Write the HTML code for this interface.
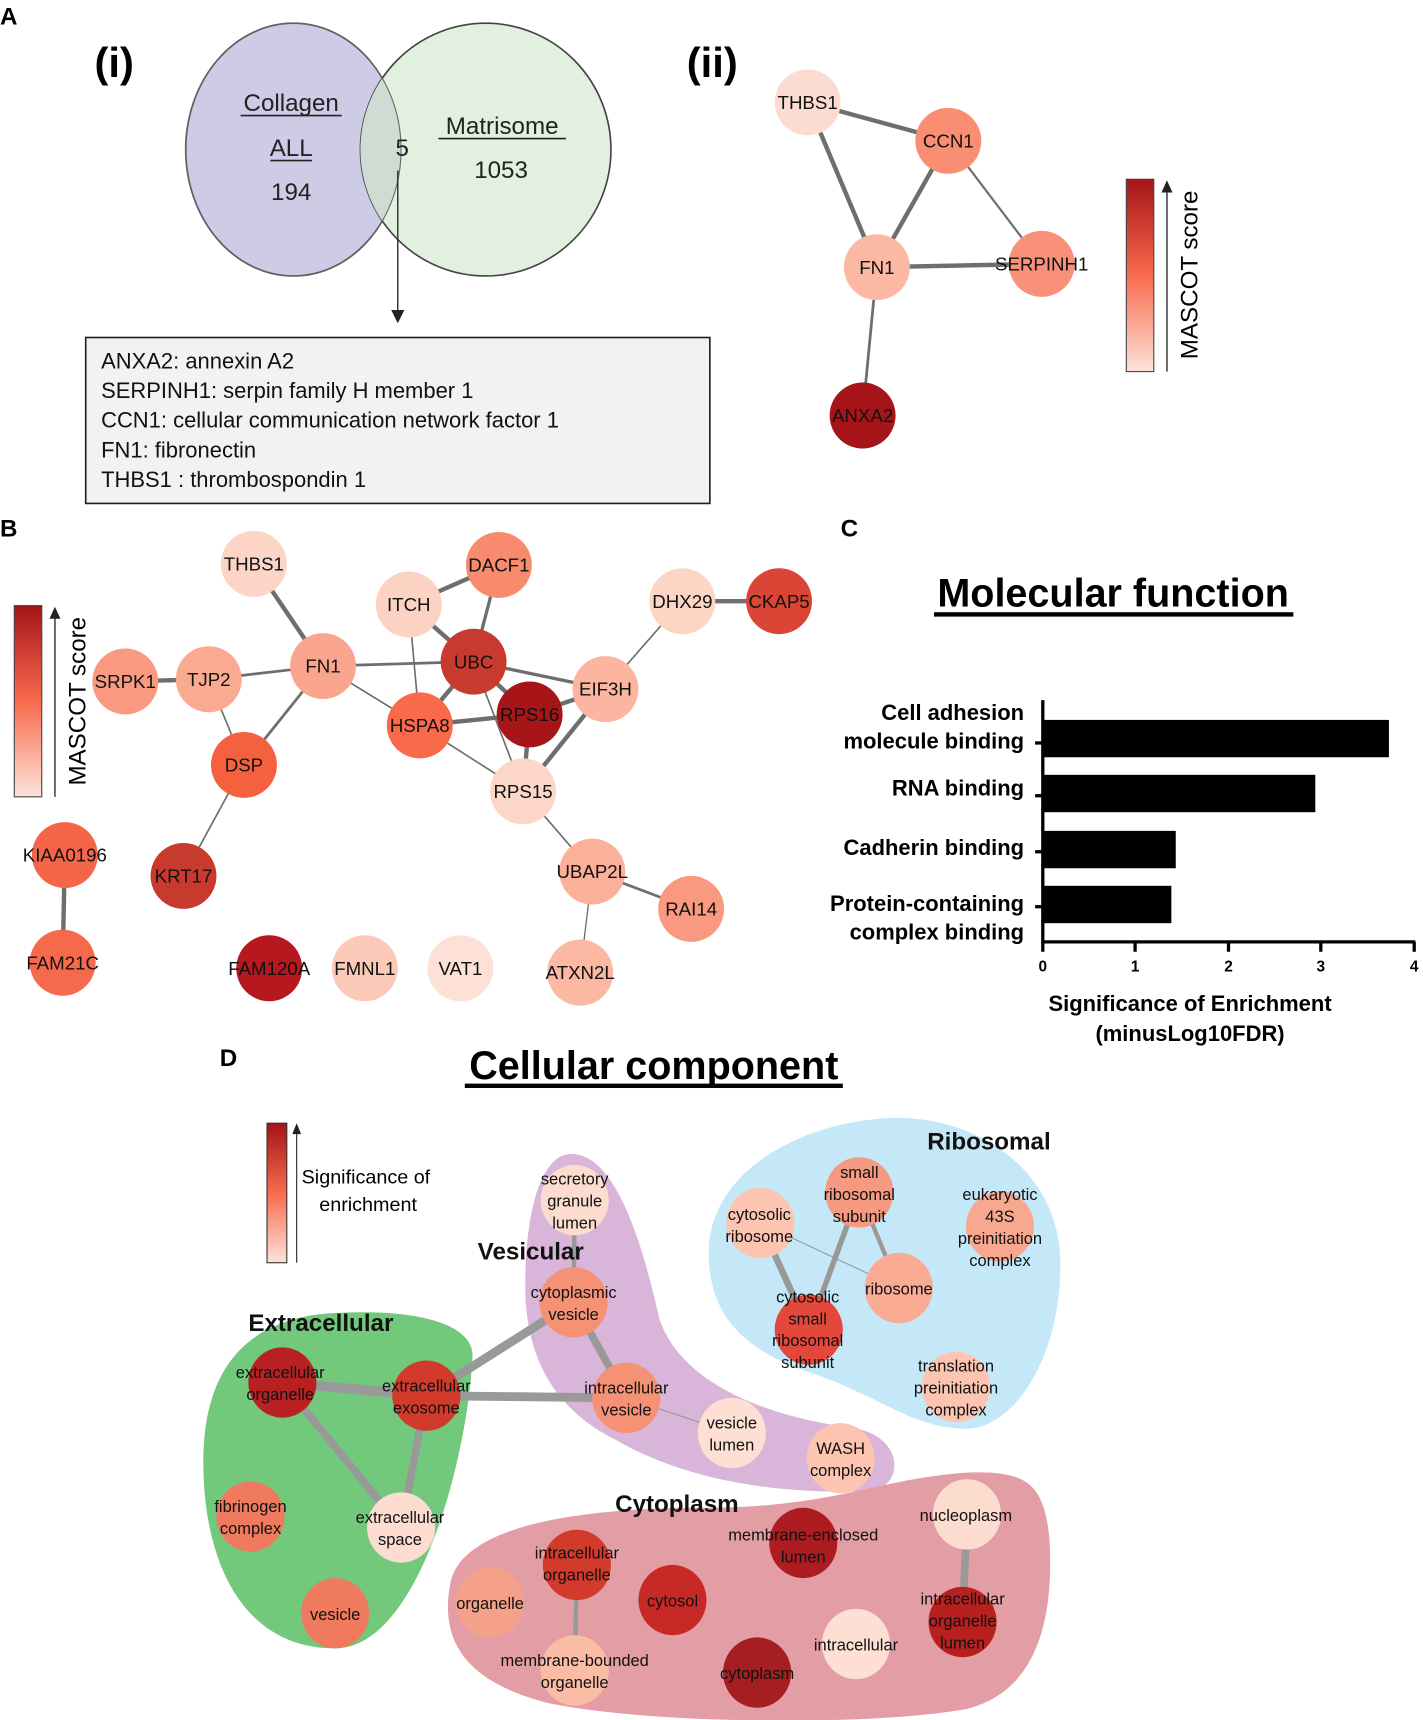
<!DOCTYPE html>
<html><head><meta charset="utf-8"><style>
html,body{margin:0;padding:0;background:#fff;}
svg{display:block;}
text{font-family:"Liberation Sans",sans-serif;}
.n{font-family:"Liberation Sans Narrow","Liberation Sans",sans-serif;font-size:15px;fill:#111;text-anchor:middle;}
.b{font-size:17px;fill:#111;text-anchor:middle;}
.g{font-family:"Liberation Sans Narrow","Liberation Sans",sans-serif;font-weight:bold;font-size:22px;fill:#111;text-anchor:middle;}
</style></head><body>
<svg width="1423" height="1720" viewBox="0 0 1295 1565" xmlns="http://www.w3.org/2000/svg">
<defs>
<linearGradient id="cb" x1="0" y1="0" x2="0" y2="1">
<stop offset="0" stop-color="#a51419"/><stop offset="0.5" stop-color="#f86b4d"/><stop offset="1" stop-color="#fde2da"/>
</linearGradient>
<clipPath id="lc"><ellipse cx="267" cy="136" rx="98" ry="115"/></clipPath>
</defs>

<!-- Panel A -->
<text x="0" y="22" font-weight="bold" font-size="22">A</text>
<text x="86" y="70" font-weight="bold" font-size="38">(i)</text>
<ellipse cx="267" cy="136" rx="98" ry="115" fill="#cdcbe5" stroke="#444" stroke-width="1.5"/>
<ellipse cx="442" cy="136" rx="114" ry="115" fill="#e2f0df" stroke="#444" stroke-width="1.5"/>
<ellipse cx="442" cy="136" rx="114" ry="115" fill="#cfdcd3" clip-path="url(#lc)"/>
<ellipse cx="267" cy="136" rx="98" ry="115" fill="none" stroke="#666" stroke-width="1"/>
<g font-size="22" text-anchor="middle" fill="#222">
<text x="265" y="101">Collagen</text><line x1="219" y1="105" x2="311" y2="105" stroke="#222" stroke-width="1.5"/>
<text x="265" y="142">ALL</text><line x1="246" y1="146" x2="284" y2="146" stroke="#222" stroke-width="1.5"/>
<text x="265" y="182">194</text>
<text x="366" y="142">5</text>
<text x="457" y="122">Matrisome</text><line x1="399" y1="126" x2="515" y2="126" stroke="#222" stroke-width="1.5"/>
<text x="456" y="162">1053</text>
</g>
<line x1="362" y1="155" x2="362" y2="284" stroke="#222" stroke-width="1.2"/>
<polygon points="356,282 368,282 362,294" fill="#222"/>
<rect x="78" y="307" width="568" height="151" fill="#f2f2f2" stroke="#222" stroke-width="1.5"/>
<g font-size="20" fill="#111">
<text x="92" y="335">ANXA2: annexin A2</text>
<text x="92" y="362">SERPINH1: serpin family H member 1</text>
<text x="92" y="389">CCN1: cellular communication network factor 1</text>
<text x="92" y="416">FN1: fibronectin</text>
<text x="92" y="443">THBS1 : thrombospondin 1</text>
</g>
<text x="625" y="70" font-weight="bold" font-size="38">(ii)</text>
<g stroke="#6e6e6e">
<line x1="735" y1="93" x2="863" y2="128" stroke-width="4"/>
<line x1="735" y1="93" x2="798" y2="243" stroke-width="4"/>
<line x1="863" y1="128" x2="798" y2="243" stroke-width="4"/>
<line x1="863" y1="128" x2="948" y2="240" stroke-width="2"/>
<line x1="798" y1="243" x2="948" y2="240" stroke-width="4"/>
<line x1="798" y1="243" x2="785" y2="378" stroke-width="2.5"/>
</g>
<g font-size="17" fill="#111" text-anchor="middle">
<circle cx="735" cy="93" r="30" fill="#fcdcd0"/><text x="735" y="99">THBS1</text>
<circle cx="863" cy="128" r="30" fill="#f98e72"/><text x="863" y="134">CCN1</text>
<circle cx="798" cy="243" r="30" fill="#fbb8a3"/><text x="798" y="249">FN1</text>
<circle cx="948" cy="240" r="30" fill="#f9917a"/><text x="948" y="246">SERPINH1</text>
<circle cx="785" cy="378" r="30" fill="#a51419"/><text x="785" y="384">ANXA2</text>
</g>
<rect x="1025" y="163" width="25" height="175" fill="url(#cb)" stroke="#444"/>
<line x1="1062" y1="338" x2="1062" y2="172" stroke="#222" stroke-width="1.2"/>
<polygon points="1057,175 1067,175 1062,164" fill="#222"/>
<text transform="translate(1090,250) rotate(-90)" font-size="22" text-anchor="middle">MASCOT score</text>

<!-- Panel B -->
<text x="0" y="488" font-weight="bold" font-size="22">B</text>
<rect x="13" y="551" width="25" height="174" fill="url(#cb)" stroke="#444"/>
<line x1="50" y1="725" x2="50" y2="560" stroke="#222" stroke-width="1.2"/>
<polygon points="45,563 55,563 50,552" fill="#222"/>
<text transform="translate(78,638) rotate(-90)" font-size="22" text-anchor="middle">MASCOT score</text>
<g stroke="#6e6e6e">
<line x1="231" y1="513" x2="294" y2="606" stroke-width="4"/>
<line x1="114" y1="620" x2="190" y2="618" stroke-width="4"/>
<line x1="190" y1="618" x2="294" y2="606" stroke-width="2.5"/>
<line x1="190" y1="618" x2="222" y2="696" stroke-width="1.5"/>
<line x1="294" y1="606" x2="222" y2="696" stroke-width="2.5"/>
<line x1="294" y1="606" x2="431" y2="602" stroke-width="2.5"/>
<line x1="294" y1="606" x2="382" y2="660" stroke-width="1.5"/>
<line x1="454" y1="514" x2="372" y2="550" stroke-width="4"/>
<line x1="454" y1="514" x2="431" y2="602" stroke-width="3"/>
<line x1="372" y1="550" x2="431" y2="602" stroke-width="4"/>
<line x1="372" y1="550" x2="382" y2="660" stroke-width="1.5"/>
<line x1="431" y1="602" x2="382" y2="660" stroke-width="4"/>
<line x1="431" y1="602" x2="551" y2="627" stroke-width="3"/>
<line x1="431" y1="602" x2="482" y2="650" stroke-width="4"/>
<line x1="431" y1="602" x2="476" y2="720" stroke-width="1.5"/>
<line x1="382" y1="660" x2="482" y2="650" stroke-width="4"/>
<line x1="382" y1="660" x2="476" y2="720" stroke-width="1.5"/>
<line x1="482" y1="650" x2="551" y2="627" stroke-width="4"/>
<line x1="482" y1="650" x2="476" y2="720" stroke-width="4"/>
<line x1="551" y1="627" x2="476" y2="720" stroke-width="4"/>
<line x1="551" y1="627" x2="621" y2="547" stroke-width="1.5"/>
<line x1="621" y1="547" x2="709" y2="547" stroke-width="4"/>
<line x1="222" y1="696" x2="167" y2="797" stroke-width="1.5"/>
<line x1="476" y1="720" x2="539" y2="793" stroke-width="1.5"/>
<line x1="539" y1="793" x2="629" y2="827" stroke-width="2.5"/>
<line x1="539" y1="793" x2="528" y2="885" stroke-width="1.2"/>
<line x1="59" y1="778" x2="57" y2="876" stroke-width="4"/>
</g>
<g font-size="17" fill="#111" text-anchor="middle">
<circle cx="231" cy="513" r="30" fill="#fcd5c7"/><text x="231" y="519">THBS1</text>
<circle cx="454" cy="514" r="30" fill="#f88b6e"/><text x="454" y="520">DACF1</text>
<circle cx="372" cy="550" r="30" fill="#fcd2c2"/><text x="372" y="556">ITCH</text>
<circle cx="621" cy="547" r="30" fill="#fcd5c5"/><text x="621" y="553">DHX29</text>
<circle cx="709" cy="547" r="30" fill="#db4535"/><text x="709" y="553">CKAP5</text>
<circle cx="114" cy="620" r="30" fill="#f99a80"/><text x="114" y="626">SRPK1</text>
<circle cx="190" cy="618" r="30" fill="#fbaa92"/><text x="190" y="624">TJP2</text>
<circle cx="294" cy="606" r="30" fill="#faa68e"/><text x="294" y="612">FN1</text>
<circle cx="431" cy="602" r="30" fill="#c83a2e"/><text x="431" y="608">UBC</text>
<circle cx="551" cy="627" r="30" fill="#fbb5a0"/><text x="551" y="633">EIF3H</text>
<circle cx="382" cy="660" r="30" fill="#f96a4a"/><text x="382" y="666">HSPA8</text>
<circle cx="482" cy="650" r="30" fill="#a81518"/><text x="482" y="656">RPS16</text>
<circle cx="222" cy="696" r="30" fill="#f5603f"/><text x="222" y="702">DSP</text>
<circle cx="476" cy="720" r="30" fill="#fcd6c8"/><text x="476" y="726">RPS15</text>
<circle cx="59" cy="778" r="30" fill="#f56648"/><text x="59" y="784">KIAA0196</text>
<circle cx="167" cy="797" r="30" fill="#c93a2e"/><text x="167" y="803">KRT17</text>
<circle cx="539" cy="793" r="30" fill="#fbb09a"/><text x="539" y="799">UBAP2L</text>
<circle cx="629" cy="827" r="30" fill="#f99a80"/><text x="629" y="833">RAI14</text>
<circle cx="57" cy="876" r="30" fill="#f56a4c"/><text x="57" y="882">FAM21C</text>
<circle cx="245" cy="881" r="30" fill="#b5191f"/><text x="245" y="887">FAM120A</text>
<circle cx="332" cy="881" r="30" fill="#fcc9b8"/><text x="332" y="887">FMNL1</text>
<circle cx="419" cy="881" r="30" fill="#fde0d6"/><text x="419" y="887">VAT1</text>
<circle cx="528" cy="885" r="30" fill="#fbb8a3"/><text x="528" y="891">ATXN2L</text>
</g>

<!-- Panel C -->
<text x="765" y="488" font-weight="bold" font-size="22">C</text>
<text x="1013" y="552" font-weight="bold" font-size="36" text-anchor="middle">Molecular function</text>
<rect x="850" y="557" width="327" height="4" fill="#000"/>
<rect x="949" y="655" width="315" height="34" fill="#000"/>
<rect x="949" y="705" width="248" height="34" fill="#000"/>
<rect x="949" y="756" width="121" height="34" fill="#000"/>
<rect x="949" y="806" width="117" height="34" fill="#000"/>
<g stroke="#000" stroke-width="3">
<line x1="949" y1="637" x2="949" y2="858"/>
<line x1="948" y1="857" x2="1288" y2="857"/>
<line x1="949" y1="857" x2="949" y2="866"/><line x1="1033" y1="857" x2="1033" y2="866"/><line x1="1118" y1="857" x2="1118" y2="866"/><line x1="1202" y1="857" x2="1202" y2="866"/><line x1="1287" y1="857" x2="1287" y2="866"/>
<line x1="942" y1="676" x2="949" y2="676"/><line x1="942" y1="724" x2="949" y2="724"/><line x1="942" y1="775" x2="949" y2="775"/><line x1="942" y1="825" x2="949" y2="825"/>
</g>
<g font-size="14" font-weight="bold" text-anchor="middle">
<text x="949" y="884">0</text><text x="1033" y="884">1</text><text x="1118" y="884">2</text><text x="1202" y="884">3</text><text x="1287" y="884">4</text>
</g>
<g font-size="20" font-weight="bold" text-anchor="end">
<text x="932" y="655">Cell adhesion</text>
<text x="932" y="681">molecule binding</text>
<text x="932" y="724">RNA binding</text>
<text x="932" y="778">Cadherin binding</text>
<text x="932" y="829">Protein-containing</text>
<text x="932" y="855">complex binding</text>
</g>
<g font-size="20" font-weight="bold" text-anchor="middle">
<text x="1083" y="920">Significance of Enrichment</text>
<text x="1083" y="947">(minusLog10FDR)</text>
</g>

<!-- Panel D -->
<text x="200" y="970" font-weight="bold" font-size="22">D</text>
<text x="595" y="982" font-weight="bold" font-size="36" text-anchor="middle">Cellular component</text>
<rect x="423" y="986" width="344" height="4" fill="#000"/>
<rect x="243" y="1022" width="18" height="127" fill="url(#cb)" stroke="#333"/>
<line x1="270" y1="1149" x2="270" y2="1030" stroke="#222" stroke-width="1"/>
<polygon points="266,1032 274,1032 270,1022" fill="#222"/>
<text x="333" y="1077" font-size="18" text-anchor="middle">Significance of</text>
<text x="335" y="1102" font-size="18" text-anchor="middle">enrichment</text>

<path d="M300,1195 C380,1190 432,1205 430,1235 C425,1330 380,1500 305,1500 C220,1500 185,1420 185,1330 C185,1240 230,1200 300,1195 Z" fill="#72c97c"/>
<path d="M520,1050 C555,1050 580,1110 600,1200 C620,1260 700,1290 780,1300 C825,1310 822,1355 790,1357 C700,1360 620,1345 560,1310 C500,1280 478,1230 478,1170 C478,1110 490,1050 520,1050 Z" fill="#d9b5d9"/>
<path d="M800,1018 C880,1010 965,1060 965,1150 C965,1240 920,1300 880,1300 C830,1300 800,1270 740,1250 C680,1230 645,1200 645,1140 C645,1070 720,1025 800,1018 Z" fill="#c4e8f8"/>
<path d="M410,1440 C420,1390 520,1372 640,1372 C760,1372 800,1345 880,1340 C935,1338 950,1350 955,1400 C960,1480 940,1540 880,1555 C800,1570 600,1570 500,1550 C420,1530 400,1490 410,1440 Z" fill="#e39ea5"/>

<g stroke="#999">
<line x1="257" y1="1258" x2="388" y2="1270" stroke-width="9"/>
<line x1="257" y1="1258" x2="365" y2="1390" stroke-width="7"/>
<line x1="388" y1="1270" x2="365" y2="1390" stroke-width="7"/>
<line x1="388" y1="1270" x2="522" y2="1185" stroke-width="8"/>
<line x1="388" y1="1270" x2="570" y2="1272" stroke-width="8"/>
<line x1="523" y1="1092" x2="522" y2="1185" stroke-width="4"/>
<line x1="522" y1="1185" x2="570" y2="1272" stroke-width="7"/>
<line x1="570" y1="1272" x2="666" y2="1304" stroke-width="1"/>
<line x1="692" y1="1113" x2="736" y2="1210" stroke-width="6"/>
<line x1="782" y1="1085" x2="736" y2="1210" stroke-width="5"/>
<line x1="782" y1="1085" x2="818" y2="1172" stroke-width="4"/>
<line x1="692" y1="1113" x2="818" y2="1172" stroke-width="1"/>
<line x1="525" y1="1424" x2="523" y2="1520" stroke-width="4"/>
<line x1="880" y1="1378" x2="876" y2="1476" stroke-width="7"/>
</g>
<g>
<ellipse cx="257" cy="1258" rx="31" ry="32" fill="#b82022"/>
<ellipse cx="388" cy="1270" rx="31" ry="32" fill="#d23a2c"/>
<ellipse cx="228" cy="1380" rx="31" ry="32" fill="#f07a5d"/>
<ellipse cx="365" cy="1390" rx="31" ry="32" fill="#fcdccf"/>
<ellipse cx="305" cy="1468" rx="31" ry="32" fill="#f07a5d"/>
<ellipse cx="523" cy="1092" rx="31" ry="32" fill="#fcdccf"/>
<ellipse cx="522" cy="1185" rx="31" ry="32" fill="#f59275"/>
<ellipse cx="570" cy="1272" rx="31" ry="32" fill="#f59275"/>
<ellipse cx="666" cy="1304" rx="31" ry="32" fill="#fde0d3"/>
<ellipse cx="765" cy="1327" rx="31" ry="32" fill="#fcc4b1"/>
<ellipse cx="692" cy="1113" rx="31" ry="32" fill="#fcc4b1"/>
<ellipse cx="782" cy="1085" rx="31" ry="32" fill="#f59a80"/>
<ellipse cx="910" cy="1116" rx="31" ry="32" fill="#f9a890"/>
<ellipse cx="818" cy="1172" rx="31" ry="32" fill="#f9ab94"/>
<ellipse cx="736" cy="1210" rx="31" ry="32" fill="#e3483a"/>
<ellipse cx="870" cy="1262" rx="31" ry="32" fill="#fcc4b1"/>
<ellipse cx="731" cy="1404" rx="31" ry="32" fill="#ac1c20"/>
<ellipse cx="880" cy="1378" rx="31" ry="32" fill="#fcdccf"/>
<ellipse cx="525" cy="1424" rx="31" ry="32" fill="#d23a2c"/>
<ellipse cx="446" cy="1458" rx="31" ry="32" fill="#f5a088"/>
<ellipse cx="612" cy="1456" rx="31" ry="32" fill="#c72a26"/>
<ellipse cx="876" cy="1476" rx="31" ry="32" fill="#b8201f"/>
<ellipse cx="779" cy="1496" rx="31" ry="32" fill="#fde0d3"/>
<ellipse cx="523" cy="1520" rx="31" ry="32" fill="#fbbca6"/>
<ellipse cx="689" cy="1522" rx="31" ry="32" fill="#a51e22"/>
</g>
<g class="n">
<text x="255" y="1254">extracellular</text><text x="255" y="1274">organelle</text>
<text x="388" y="1266">extracellular</text><text x="388" y="1286">exosome</text>
<text x="228" y="1376">fibrinogen</text><text x="228" y="1396">complex</text>
<text x="364" y="1386">extracellular</text><text x="364" y="1406">space</text>
<text x="305" y="1474">vesicle</text>
<text x="523" y="1078">secretory</text><text x="523" y="1098">granule</text><text x="523" y="1118">lumen</text>
<text x="522" y="1181">cytoplasmic</text><text x="522" y="1201">vesicle</text>
<text x="570" y="1268">intracellular</text><text x="570" y="1288">vesicle</text>
<text x="666" y="1300">vesicle</text><text x="666" y="1320">lumen</text>
<text x="765" y="1323">WASH</text><text x="765" y="1343">complex</text>
<text x="691" y="1110">cytosolic</text><text x="691" y="1130">ribosome</text>
<text x="782" y="1072">small</text><text x="782" y="1092">ribosomal</text><text x="782" y="1112">subunit</text>
<text x="910" y="1092">eukaryotic</text><text x="910" y="1112">43S</text><text x="910" y="1132">preinitiation</text><text x="910" y="1152">complex</text>
<text x="818" y="1178">ribosome</text>
<text x="735" y="1185">cytosolic</text><text x="735" y="1205">small</text><text x="735" y="1225">ribosomal</text><text x="735" y="1245">subunit</text>
<text x="870" y="1248">translation</text><text x="870" y="1268">preinitiation</text><text x="870" y="1288">complex</text>
<text x="731" y="1402">membrane-enclosed</text><text x="731" y="1422">lumen</text>
<text x="879" y="1384">nucleoplasm</text>
<text x="525" y="1418">intracellular</text><text x="525" y="1438">organelle</text>
<text x="446" y="1464">organelle</text>
<text x="612" y="1462">cytosol</text>
<text x="876" y="1460">intracellular</text><text x="876" y="1480">organelle</text><text x="876" y="1500">lumen</text>
<text x="779" y="1502">intracellular</text>
<text x="523" y="1516">membrane-bounded</text><text x="523" y="1536">organelle</text>
<text x="689" y="1528">cytoplasm</text>
</g>
<g class="g">
<text x="900" y="1046">Ribosomal</text>
<text x="483" y="1146">Vesicular</text>
<text x="292" y="1211">Extracellular</text>
<text x="616" y="1376">Cytoplasm</text>
</g>
</svg>
</body></html>
